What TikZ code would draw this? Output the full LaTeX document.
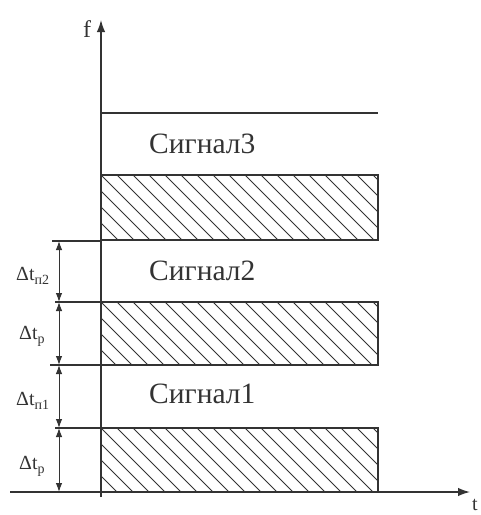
\documentclass[tikz,border=0pt]{standalone}
\usepackage{fontspec}
\setmainfont{Liberation Serif}
\usetikzlibrary{arrows.meta}
\definecolor{ink}{HTML}{333333}
\newcommand{\dsub}[1]{\raisebox{-4pt}{\fontsize{14}{14}\selectfont #1}}
\begin{document}
\begin{tikzpicture}[x=1pt,y=-1pt,
  axisline/.style={draw=ink, line width=1.4pt, -{Latex[length=12pt,width=8.5pt]}},
  edge/.style={draw=ink, line width=1.1pt},
  hatchline/.style={draw=ink, line width=0.8pt},
  dimline/.style={draw=ink, line width=1pt, {Latex[length=9pt,width=6.5pt]}-{Latex[length=9pt,width=6.5pt]}},
  sig/.style={anchor=base west, font=\fontsize{29.5}{30}\selectfont, text=ink, inner sep=0pt},
  lbl/.style={anchor=base west, font=\fontsize{20}{22}\selectfont, text=ink, inner sep=0pt}
]
\useasboundingbox (0,0) rectangle (481,515);

% named coordinates
\coordinate (ytop) at (101,20);
\coordinate (ybot) at (101,497);
\coordinate (xleft) at (10,492);
\coordinate (xright) at (470,492);

% hatching
\foreach \ytop/\ybot in {175/240, 302/365, 428/492} {
  \begin{scope}
    \clip (101,\ytop) rectangle (378,\ybot);
    \foreach \k in {-5,...,18}
      \draw[hatchline] (101+\k*16,\ytop) -- ++(70,70);
  \end{scope}
}

% rectangles
\draw[edge] (101,175) rectangle (378,240);
\draw[edge] (101,302) rectangle (378,365);
\draw[edge] (101,428) rectangle (378,492);

% top line
\draw[edge] (101,113) -- (378,113);

% extension lines
\coordinate (e1) at (52,241);
\coordinate (e2) at (55,302);
\coordinate (e3) at (50,365);
\coordinate (e4) at (55,428);
\draw[edge] (e1) -- (101,241);
\draw[edge] (e2) -- (101,302);
\draw[edge] (e3) -- (101,365);
\draw[edge] (e4) -- (101,428);

% axes
\draw[axisline] (ybot) -- (ytop);
\draw[axisline] (xleft) -- (xright);

% dimension arrows
\draw[dimline] (59,241) -- (59,302);
\draw[dimline] (59,302) -- (59,365);
\draw[dimline] (59,365) -- (59,428);
\draw[dimline] (59,428) -- (59,492);

% labels
\node[lbl] (lf) at (83,37) {\fontsize{24}{24}\selectfont f};
\node[lbl] (lt) at (472,510) {\fontsize{20}{20}\selectfont t};
\node[lbl] (d1) at (16,280) {Δt\dsub{п2}};
\node[lbl] (d2) at (19,339) {Δt\dsub{р}};
\node[lbl] (d3) at (16,405) {Δt\dsub{п1}};
\node[lbl] (d4) at (19,469) {Δt\dsub{р}};

\node[sig] (s3) at (149,153) {Сигнал3};
\node[sig] (s2) at (149,280) {Сигнал2};
\node[sig] (s1) at (149,403) {Сигнал1};
\end{tikzpicture}
\end{document}
